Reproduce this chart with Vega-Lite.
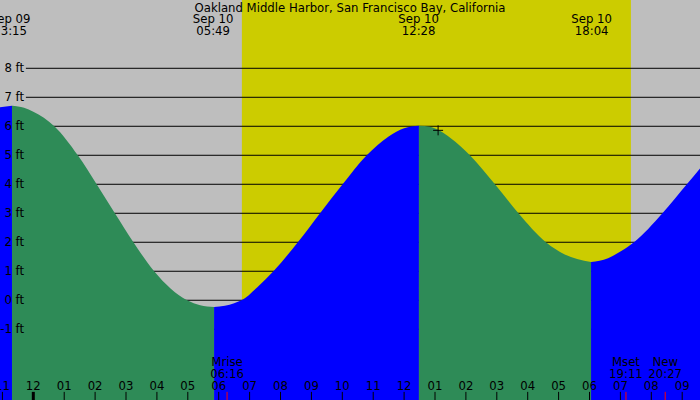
{
  "$schema": "https://vega.github.io/schema/vega-lite/v6.json",
  "width": 700,
  "height": 400,
  "autosize": {"type": "fit", "contains": "padding"},
  "padding": 0,
  "background": "#bebebe",
  "config": {
    "view": {"stroke": null},
    "text": {"font": "DejaVu Sans", "fontSize": 11.7, "color": "black"}
  },
  "datasets": {
    "tide": [
      {"h": -1.08, "ft": 6.66, "seg": 1, "phase": "rising"},
      {"h": -0.69, "ft": 6.71, "seg": 1, "phase": "rising"},
      {"h": -0.69, "ft": 6.71, "seg": 2, "phase": "falling"},
      {"h": -0.3, "ft": 6.64, "seg": 2, "phase": "falling"},
      {"h": 0.0, "ft": 6.5, "seg": 2, "phase": "falling"},
      {"h": 0.68, "ft": 6.0, "seg": 2, "phase": "falling"},
      {"h": 1.44, "ft": 5.0, "seg": 2, "phase": "falling"},
      {"h": 2.05, "ft": 4.0, "seg": 2, "phase": "falling"},
      {"h": 2.64, "ft": 3.0, "seg": 2, "phase": "falling"},
      {"h": 3.24, "ft": 2.0, "seg": 2, "phase": "falling"},
      {"h": 3.91, "ft": 1.0, "seg": 2, "phase": "falling"},
      {"h": 4.45, "ft": 0.4, "seg": 2, "phase": "falling"},
      {"h": 4.98, "ft": 0.0, "seg": 2, "phase": "falling"},
      {"h": 5.4, "ft": -0.17, "seg": 2, "phase": "falling"},
      {"h": 5.85, "ft": -0.23, "seg": 2, "phase": "falling"},
      {"h": 5.85, "ft": -0.23, "seg": 3, "phase": "rising"},
      {"h": 6.2, "ft": -0.19, "seg": 3, "phase": "rising"},
      {"h": 6.5, "ft": -0.1, "seg": 3, "phase": "rising"},
      {"h": 6.74, "ft": 0.0, "seg": 3, "phase": "rising"},
      {"h": 7.25, "ft": 0.45, "seg": 3, "phase": "rising"},
      {"h": 7.77, "ft": 1.0, "seg": 3, "phase": "rising"},
      {"h": 8.56, "ft": 2.0, "seg": 3, "phase": "rising"},
      {"h": 9.28, "ft": 3.0, "seg": 3, "phase": "rising"},
      {"h": 10.01, "ft": 4.0, "seg": 3, "phase": "rising"},
      {"h": 10.79, "ft": 5.0, "seg": 3, "phase": "rising"},
      {"h": 11.5, "ft": 5.65, "seg": 3, "phase": "rising"},
      {"h": 12.0, "ft": 5.93, "seg": 3, "phase": "rising"},
      {"h": 12.48, "ft": 6.02, "seg": 3, "phase": "rising"},
      {"h": 12.48, "ft": 6.02, "seg": 4, "phase": "falling"},
      {"h": 12.84, "ft": 5.98, "seg": 4, "phase": "falling"},
      {"h": 13.5, "ft": 5.6, "seg": 4, "phase": "falling"},
      {"h": 14.13, "ft": 5.0, "seg": 4, "phase": "falling"},
      {"h": 14.94, "ft": 4.0, "seg": 4, "phase": "falling"},
      {"h": 15.7, "ft": 3.0, "seg": 4, "phase": "falling"},
      {"h": 16.59, "ft": 2.0, "seg": 4, "phase": "falling"},
      {"h": 17.2, "ft": 1.58, "seg": 4, "phase": "falling"},
      {"h": 17.6, "ft": 1.42, "seg": 4, "phase": "falling"},
      {"h": 18.05, "ft": 1.32, "seg": 4, "phase": "falling"},
      {"h": 18.05, "ft": 1.32, "seg": 5, "phase": "rising"},
      {"h": 18.6, "ft": 1.45, "seg": 5, "phase": "rising"},
      {"h": 19.0, "ft": 1.68, "seg": 5, "phase": "rising"},
      {"h": 19.44, "ft": 2.0, "seg": 5, "phase": "rising"},
      {"h": 20.36, "ft": 3.0, "seg": 5, "phase": "rising"},
      {"h": 21.15, "ft": 4.0, "seg": 5, "phase": "rising"},
      {"h": 21.58, "ft": 4.55, "seg": 5, "phase": "rising"}
    ],
    "extremes": [
      {"h": -0.75, "label": "Sep 09\n23:15"},
      {"h": 5.82, "label": "Sep 10\n05:49"},
      {"h": 12.47, "label": "Sep 10\n12:28"},
      {"h": 18.07, "label": "Sep 10\n18:04"}
    ],
    "levels": [
      {"ft": -1, "label": "-1 ft"}, {"ft": 0, "label": "0 ft"},
      {"ft": 1, "label": "1 ft"}, {"ft": 2, "label": "2 ft"},
      {"ft": 3, "label": "3 ft"}, {"ft": 4, "label": "4 ft"},
      {"ft": 5, "label": "5 ft"}, {"ft": 6, "label": "6 ft"},
      {"ft": 7, "label": "7 ft"}, {"ft": 8, "label": "8 ft"}
    ],
    "hours": [
      {"h": -1, "label": "11", "midnight": false},
      {"h": 0, "label": "12", "midnight": true},
      {"h": 1, "label": "01", "midnight": false},
      {"h": 2, "label": "02", "midnight": false},
      {"h": 3, "label": "03", "midnight": false},
      {"h": 4, "label": "04", "midnight": false},
      {"h": 5, "label": "05", "midnight": false},
      {"h": 6, "label": "06", "midnight": false},
      {"h": 7, "label": "07", "midnight": false},
      {"h": 8, "label": "08", "midnight": false},
      {"h": 9, "label": "09", "midnight": false},
      {"h": 10, "label": "10", "midnight": false},
      {"h": 11, "label": "11", "midnight": false},
      {"h": 12, "label": "12", "midnight": false},
      {"h": 13, "label": "01", "midnight": false},
      {"h": 14, "label": "02", "midnight": false},
      {"h": 15, "label": "03", "midnight": false},
      {"h": 16, "label": "04", "midnight": false},
      {"h": 17, "label": "05", "midnight": false},
      {"h": 18, "label": "06", "midnight": false},
      {"h": 19, "label": "07", "midnight": false},
      {"h": 20, "label": "08", "midnight": false},
      {"h": 21, "label": "09", "midnight": false}
    ],
    "moon": [
      {"h": 6.27, "label": "Mrise\n06:16"},
      {"h": 19.18, "label": "Mset\n19:11"},
      {"h": 20.45, "label": "New\n20:27"}
    ],
    "daylight": [{"sunrise": 6.75, "sunset": 19.34}],
    "now": [{"h": 13.1, "ft": 5.86}]
  },
  "layer": [
    {
      "data": {"name": "daylight"},
      "mark": {"type": "rect", "color": "#cccc00", "clip": true},
      "encoding": {
        "x": {"field": "sunrise", "type": "quantitative", "scale": {"domain": [-1.078, 21.576], "nice": false, "zero": false}, "axis": null},
        "x2": {"field": "sunset"}
      }
    },
    {
      "data": {"name": "levels"},
      "mark": {"type": "rule", "color": "black", "strokeWidth": 1, "clip": true},
      "encoding": {
        "y": {"field": "ft", "type": "quantitative", "scale": {"domain": [-3.44, 10.355], "nice": false, "zero": false}, "axis": null},
        "x": {"datum": -0.24, "type": "quantitative", "scale": {"domain": [-1.078, 21.576], "nice": false, "zero": false}, "axis": null},
        "x2": {"datum": 21.576}
      }
    },
    {
      "data": {"name": "tide"},
      "mark": {"type": "area", "interpolate": "monotone", "clip": true},
      "encoding": {
        "x": {"field": "h", "type": "quantitative", "scale": {"domain": [-1.078, 21.576], "nice": false, "zero": false}, "axis": null},
        "y": {"field": "ft", "type": "quantitative", "stack": null, "scale": {"domain": [-3.44, 10.355], "nice": false, "zero": false}, "axis": null},
        "y2": {"datum": -3.44},
        "color": {"field": "phase", "type": "nominal", "scale": {"domain": ["falling", "rising"], "range": ["#2e8b57", "#0000ff"]}, "legend": null},
        "detail": {"field": "seg", "type": "nominal"}
      }
    },
    {
      "data": {"name": "levels"},
      "mark": {"type": "text", "align": "right", "baseline": "middle", "clip": true},
      "encoding": {
        "y": {"field": "ft", "type": "quantitative", "scale": {"domain": [-3.44, 10.355], "nice": false, "zero": false}, "axis": null},
        "x": {"datum": -0.3, "type": "quantitative", "scale": {"domain": [-1.078, 21.576], "nice": false, "zero": false}, "axis": null},
        "text": {"field": "label"}
      }
    },
    {
      "data": {"name": "hours"},
      "mark": {"type": "rule", "color": "black", "clip": true},
      "encoding": {
        "x": {"field": "h", "type": "quantitative", "scale": {"domain": [-1.078, 21.576], "nice": false, "zero": false}, "axis": null},
        "y": {"datum": -3.16, "type": "quantitative", "scale": {"domain": [-3.44, 10.355], "nice": false, "zero": false}, "axis": null},
        "y2": {"datum": -3.44},
        "strokeWidth": {"condition": {"test": "datum.midnight", "value": 3}, "value": 1}
      }
    },
    {
      "data": {"name": "hours"},
      "mark": {"type": "text", "align": "center", "baseline": "middle", "clip": true},
      "encoding": {
        "x": {"field": "h", "type": "quantitative", "scale": {"domain": [-1.078, 21.576], "nice": false, "zero": false}, "axis": null},
        "y": {"datum": -2.94, "type": "quantitative", "scale": {"domain": [-3.44, 10.355], "nice": false, "zero": false}, "axis": null},
        "text": {"field": "label"}
      }
    },
    {
      "data": {"name": "moon"},
      "mark": {"type": "rule", "color": "red", "strokeWidth": 1, "clip": true},
      "encoding": {
        "x": {"field": "h", "type": "quantitative", "scale": {"domain": [-1.078, 21.576], "nice": false, "zero": false}, "axis": null},
        "y": {"datum": -3.16, "type": "quantitative", "scale": {"domain": [-3.44, 10.355], "nice": false, "zero": false}, "axis": null},
        "y2": {"datum": -3.44}
      }
    },
    {
      "data": {"name": "moon"},
      "mark": {"type": "text", "align": "center", "baseline": "middle", "lineBreak": "\n", "lineHeight": 12, "clip": true},
      "encoding": {
        "x": {"field": "h", "type": "quantitative", "scale": {"domain": [-1.078, 21.576], "nice": false, "zero": false}, "axis": null},
        "y": {"datum": -2.12, "type": "quantitative", "scale": {"domain": [-3.44, 10.355], "nice": false, "zero": false}, "axis": null},
        "text": {"field": "label"}
      }
    },
    {
      "data": {"name": "extremes"},
      "mark": {"type": "text", "align": "center", "baseline": "middle", "lineBreak": "\n", "lineHeight": 12, "clip": true},
      "encoding": {
        "x": {"field": "h", "type": "quantitative", "scale": {"domain": [-1.078, 21.576], "nice": false, "zero": false}, "axis": null},
        "y": {"datum": 9.7, "type": "quantitative", "scale": {"domain": [-3.44, 10.355], "nice": false, "zero": false}, "axis": null},
        "text": {"field": "label"}
      }
    },
    {
      "data": {"name": "now"},
      "mark": {"type": "point", "shape": "M-1,0H1M0,-1V1", "filled": false, "color": "black", "strokeWidth": 1, "size": 100, "opacity": 1, "clip": true},
      "encoding": {
        "x": {"field": "h", "type": "quantitative", "scale": {"domain": [-1.078, 21.576], "nice": false, "zero": false}, "axis": null},
        "y": {"field": "ft", "type": "quantitative", "scale": {"domain": [-3.44, 10.355], "nice": false, "zero": false}, "axis": null}
      }
    },
    {
      "data": {"values": [{"title": "Oakland Middle Harbor, San Francisco Bay, California"}]},
      "mark": {"type": "text", "align": "center", "baseline": "middle", "clip": true},
      "encoding": {
        "x": {"datum": 10.25, "type": "quantitative", "scale": {"domain": [-1.078, 21.576], "nice": false, "zero": false}, "axis": null},
        "y": {"datum": 10.08, "type": "quantitative", "scale": {"domain": [-3.44, 10.355], "nice": false, "zero": false}, "axis": null},
        "text": {"field": "title"}
      }
    }
  ]
}
